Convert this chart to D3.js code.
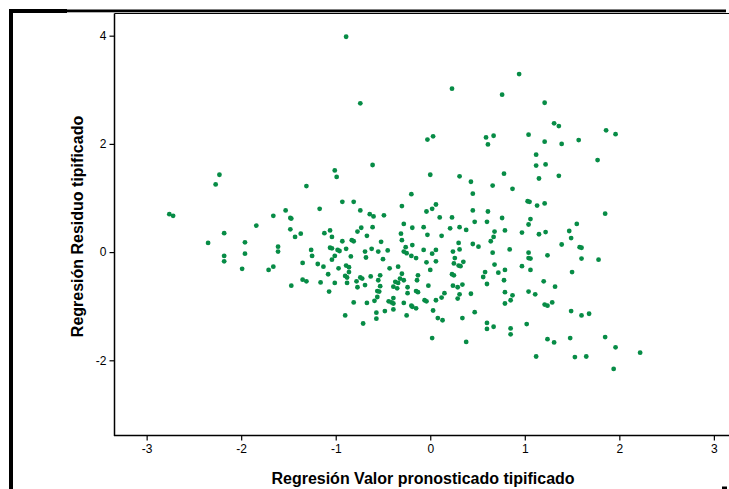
<!DOCTYPE html>
<html>
<head>
<meta charset="utf-8">
<script src="https://cdn.jsdelivr.net/npm/d3@7/dist/d3.min.js"></script>
<style>
  html, body { margin: 0; padding: 0; background: #fff; }
  svg { display: block; }
</style>
</head>
<body>
<svg id="chart" width="729" height="489"></svg>
<script>
// Predicted value (standardized) – x
const predicted = [
 -0.89,-0.74,0.23,0.94,0.76,1.21,1.31,1.36,1.86,1.96,-0.03,0.03,0.59,0.67,0.61,1.04,1.21,1.39,1.57,1.12,1.77,-0.61,1.12,1.22,
 -2.23,-2.27,-1.31,-2.76,-2.72,-1.53,-1.66,-1.48,-1.47,-1.17,-1.84,-2.18,-1.48,-1.37,-1.43,-1.12,-1.06,-2.35,-1.96,-1.61,-1.61,-1.26,-1.25,-2.18,-1.96,-1.06,
 -2.18,-1.99,-1.71,-1.66,-1.35,-1.19,-1.13,-1.08,-1.47,-1.35,-1.31,-1.16,-1.07,
 -1.01,-0.99,0.00,0.31,0.43,0.45,-0.20,-0.93,-0.81,-0.30,-0.74,-0.64,-0.60,-0.49,0.06,0.02,-0.04,0.45,0.61,0.10,0.23,-0.28,0.47,0.60,
 -0.61,-0.73,-0.77,-0.19,-0.07,0.21,0.31,0.38,-1.04,-0.67,-0.31,-0.03,0.12,-0.93,-0.83,-0.81,-0.52,-0.30,0.30,0.45,0.51,-0.19,
 -1.04,-0.98,-0.96,-0.89,-0.69,-0.62,-0.55,-0.45,-0.26,-0.28,-0.25,-0.20,-0.15,-0.07,0.06,0.02,0.24,0.31,-0.84,-0.68,-0.50,0.26,
 -1.04,-1.01,-0.04,0.06,0.25,0.30,0.32,0.35,0.58,0.56,0.60,-0.97,-0.89,-0.86,-0.90,-0.88,-0.86,-1.01,-0.88,-0.78,-0.74,-0.72,
 -0.77,-0.69,-0.63,-0.43,-0.34,-0.30,-0.53,-0.55,-0.53,-0.56,-0.54,-0.56,-0.59,-0.67,-0.81,-0.90,-0.71,-0.57,-0.57,-0.48,
 -0.37,-0.34,-0.32,-0.28,-0.39,-0.35,-0.24,-0.24,-0.15,-0.13,-0.14,-0.13,0.00,-0.02,-0.39,-0.44,-0.41,-0.39,-0.39,-0.28,
 -0.20,-0.19,-0.15,-0.25,-0.06,-0.04,0.03,0.06,0.12,0.15,0.08,0.13,0.02,0.24,0.29,0.34,0.31,0.29,0.43,0.47,0.34,0.38,0.60,0.60,0.23,0.25,
 0.78,1.15,1.36,0.66,0.87,1.03,1.05,1.13,1.21,0.76,1.06,1.04,1.85,1.55,0.68,0.79,0.67,0.64,0.97,1.15,1.22,1.47,1.49,1.39,1.58,1.60,
 0.66,0.84,1.04,1.24,1.04,1.06,1.60,1.78,
 0.68,0.97,1.06,0.72,0.79,1.50,0.78,1.20,1.32,0.79,0.87,0.85,0.79,1.04,1.11,1.21,1.24,1.29,1.49,1.60,1.68,0.67,0.85,0.85,1.02,
 1.24,1.31,1.48,1.85,1.96,2.22,1.12,1.53,1.65,1.94
];
// Residual (standardized) – y
const residual = [
 3.98,2.75,3.02,3.29,2.91,2.76,2.38,2.33,2.25,2.18,2.08,2.14,2.12,2.15,1.99,2.17,2.04,2.00,2.07,1.80,1.70,1.61,1.60,1.62,
 1.43,1.25,1.22,0.70,0.67,0.77,0.67,0.63,0.62,0.80,0.49,0.35,0.42,0.34,0.28,0.35,0.40,0.17,0.18,0.10,0.01,0.04,-0.07,-0.07,-0.03,0.08,
 -0.17,-0.31,-0.33,-0.27,-0.20,-0.22,-0.27,-0.41,-0.62,-0.51,-0.54,-0.56,-0.73,
 1.51,1.39,1.43,1.40,1.30,1.08,1.07,0.93,0.93,0.85,0.77,0.70,0.66,0.68,0.88,0.80,0.75,0.77,0.75,0.64,0.64,0.52,0.56,0.56,
 0.46,0.45,0.38,0.45,0.46,0.44,0.46,0.41,0.28,0.30,0.34,0.32,0.30,0.20,0.22,0.20,0.19,0.22,0.17,0.15,0.10,0.13,
 0.07,0.04,0.02,0.06,0.01,0.06,0.01,0.03,0.09,0.01,-0.02,-0.07,-0.11,0.04,0.04,-0.03,0.01,0.05,-0.08,-0.10,-0.13,-0.11,
 -0.14,-0.07,-0.19,-0.17,-0.21,-0.25,-0.26,-0.18,-0.37,-0.46,-0.59,-0.30,-0.25,-0.28,-0.44,-0.47,-0.37,-0.57,-0.57,-0.54,-0.47,-0.49,
 -0.65,-0.61,-0.45,-0.30,-0.27,-0.40,-0.43,-0.52,-0.63,-0.72,-0.73,-0.83,-0.90,-0.94,-0.93,-1.17,-1.32,-1.12,-1.23,-1.09,
 -0.55,-0.57,-0.49,-0.52,-0.64,-0.67,-0.65,-0.76,-0.72,-0.74,-0.52,-0.43,-0.33,-0.62,-0.85,-0.91,-0.93,-0.95,-1.06,-0.94,
 -0.99,-1.01,-1.04,-1.17,-0.89,-0.91,-1.08,-0.89,-0.84,-0.76,-1.22,-1.26,-1.59,-0.62,-0.65,-0.60,-0.78,-0.86,-0.77,-1.11,-1.22,-1.66,-1.31,-1.42,-0.41,-0.43,
 1.45,1.36,1.41,1.23,1.17,0.94,0.93,0.86,0.90,0.63,0.61,0.51,0.71,0.52,0.38,0.40,0.28,0.20,0.36,0.33,0.37,0.39,0.26,0.14,0.09,0.08,
 -0.01,0.05,-0.01,-0.06,-0.11,-0.12,-0.12,-0.14,
 -0.23,-0.26,-0.33,-0.38,-0.33,-0.37,-0.52,-0.54,-0.64,-0.74,-0.80,-0.89,-0.95,-0.73,-0.78,-0.97,-0.99,-0.93,-1.09,-1.17,-1.14,-1.38,-1.41,-1.52,-1.33,
 -1.61,-1.67,-1.59,-1.57,-1.76,-1.86,-1.93,-1.94,-1.93,-2.16
];
const xTicks = [-3, -2, -1, 0, 1, 2, 3];
const yTicks = [-2, 0, 2, 4];
const xTitle = "Regresión Valor pronosticado tipificado";
const yTitle = "Regresión Residuo tipificado";

const svg = d3.select("#chart");
const font = "'Liberation Sans', Arial, sans-serif";
const dotColor = "#078c46";

const pLeft = 114.5, pRight = 729, pTop = 13.5, pBottom = 435.5;
const x = d3.scaleLinear().domain([-3.34, 3.16]).range([pLeft, pRight]);
const y = d3.scaleLinear().domain([-3.39, 4.41]).range([pBottom, pTop]);

// frame decoration
svg.append("rect").attr("x", 9).attr("y", 9).attr("width", 4).attr("height", 480).attr("fill", "#000");
svg.append("rect").attr("x", 9).attr("y", 9).attr("width", 58).attr("height", 4).attr("fill", "#000");
svg.append("rect").attr("x", 9).attr("y", 9.5).attr("width", 717).attr("height", 2.8).attr("fill", "#000");
svg.append("rect").attr("x", 722).attr("y", 486.5).attr("width", 5).attr("height", 2.5).attr("fill", "#000");

// top border of plot
svg.append("line").attr("x1", pLeft).attr("x2", pRight).attr("y1", pTop).attr("y2", pTop)
  .attr("stroke", "#000").attr("stroke-width", 1);

// axes
const xAxis = d3.axisBottom(x).tickValues(xTicks).tickSize(5).tickPadding(4).tickFormat(d3.format("d"));
const yAxis = d3.axisLeft(y).tickValues(yTicks).tickSize(5).tickPadding(3).tickFormat(d3.format("d"));

const gx = svg.append("g").attr("transform", `translate(0,${pBottom})`).call(xAxis);
const gy = svg.append("g").attr("transform", `translate(${pLeft},0)`).call(yAxis);
[gx, gy].forEach(g => {
  g.select(".domain").remove();
  g.selectAll(".tick line").attr("stroke", "#000").attr("stroke-width", 1.2);
  g.selectAll(".tick text").attr("fill", "#000").style("font-family", font).style("font-size", "12px");
});
gx.selectAll(".tick text").text(d => d < 0 ? "-" + Math.abs(d) : d);
gy.selectAll(".tick text").text(d => d < 0 ? "-" + Math.abs(d) : d);

svg.append("line").attr("x1", pLeft).attr("x2", pLeft).attr("y1", pTop).attr("y2", pBottom + 0.5)
  .attr("stroke", "#000").attr("stroke-width", 1.5);
svg.append("line").attr("x1", pLeft - 0.5).attr("x2", pRight).attr("y1", pBottom).attr("y2", pBottom)
  .attr("stroke", "#000").attr("stroke-width", 1.5);

// points
const pts = predicted.map((p, i) => ({ p, r: residual[i] }));
svg.append("g").selectAll("circle").data(pts).join("circle")
  .attr("cx", d => x(d.p)).attr("cy", d => y(d.r)).attr("r", 2.4)
  .attr("fill", dotColor);

// titles
svg.append("text").attr("x", 423).attr("y", 483.5).attr("text-anchor", "middle")
  .style("font-family", font).style("font-size", "16px").style("font-weight", "bold")
  .text(xTitle);
svg.append("text").attr("transform", "translate(83,226.5) rotate(-90)").attr("text-anchor", "middle")
  .style("font-family", font).style("font-size", "16px").style("font-weight", "bold")
  .text(yTitle);
</script>
</body>
</html>
